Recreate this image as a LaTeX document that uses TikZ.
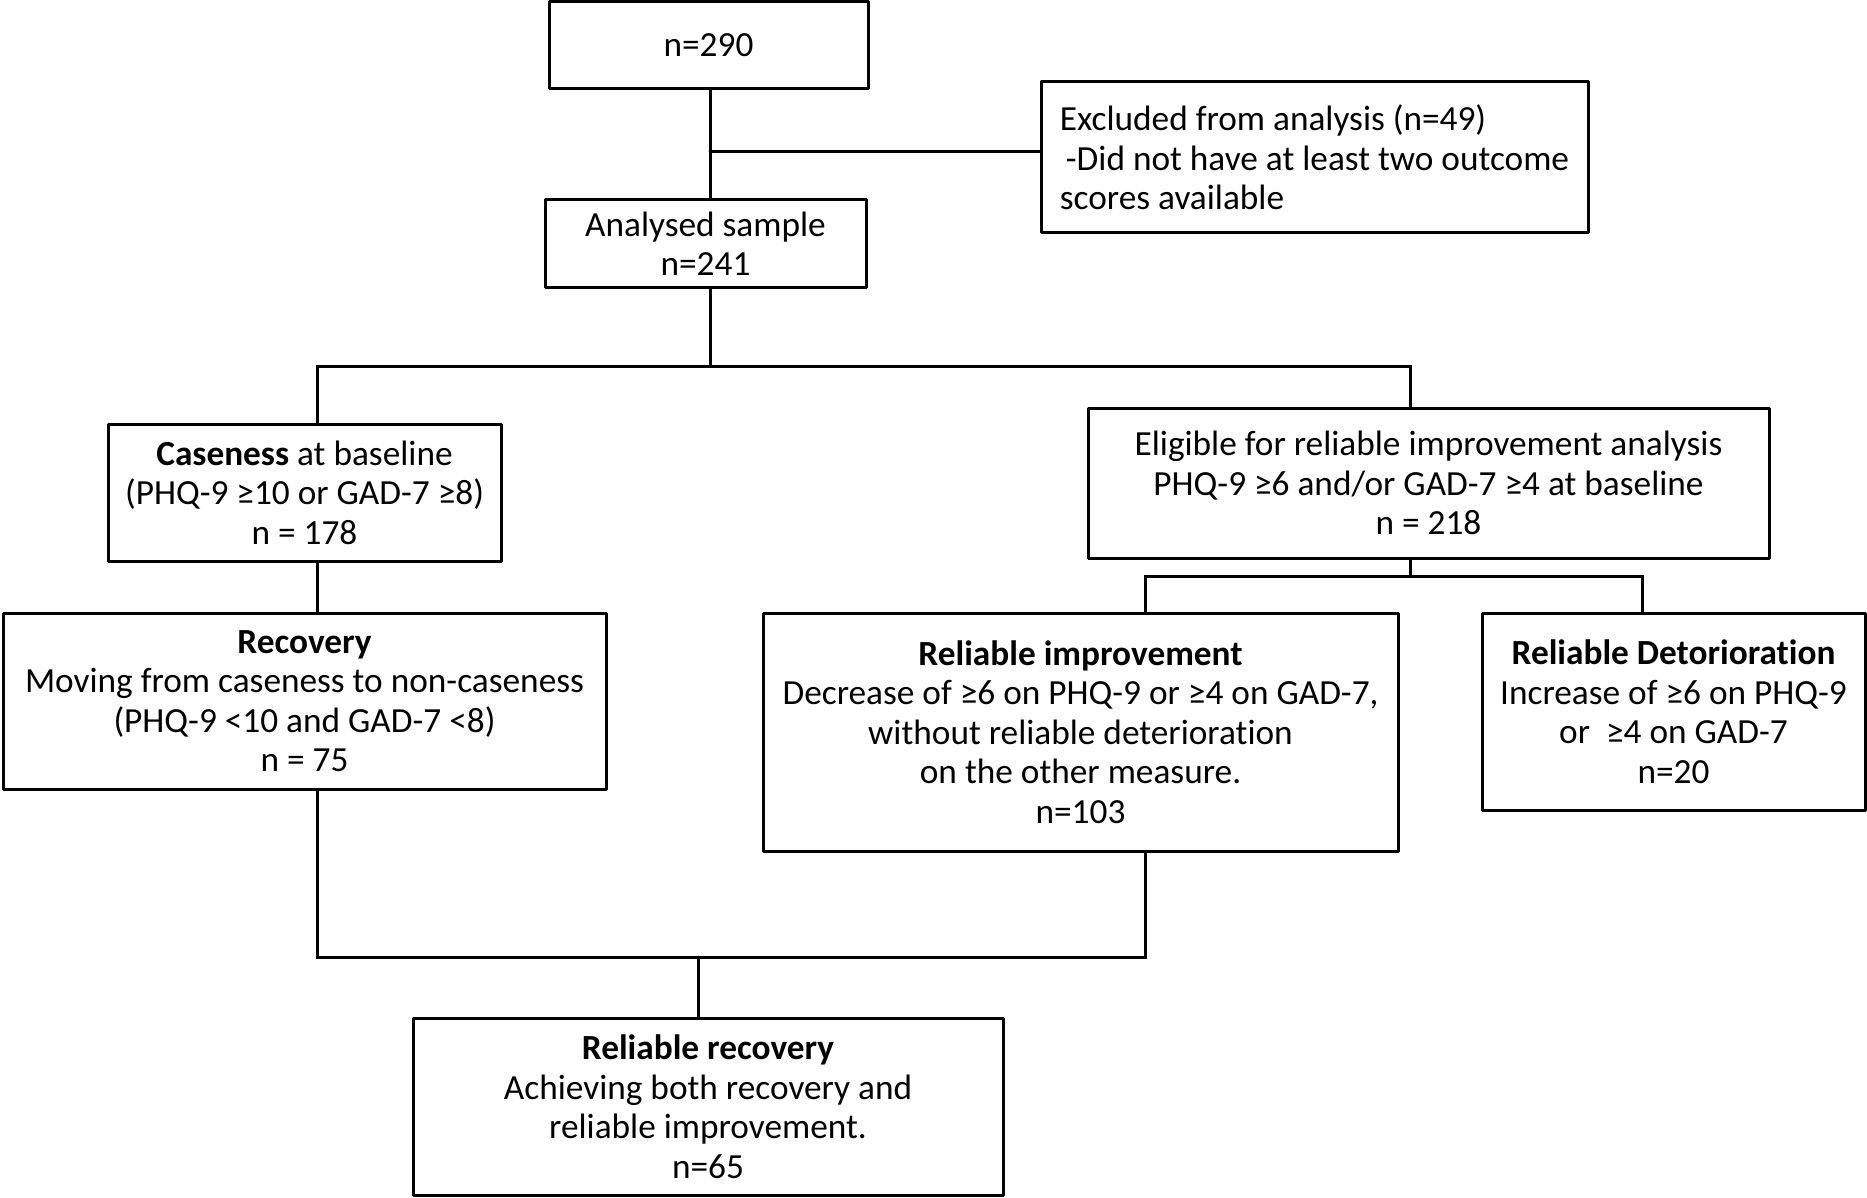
\documentclass[tikz,border=0pt]{standalone}
\usepackage{fontspec}
\setmainfont[Ligatures={NoCommon}]{Carlito}
\begin{document}
\begin{tikzpicture}[x=1pt,y=-1pt,
  box/.style={draw=black,line width=3pt,line join=round,inner sep=0pt,align=center,
    font=\fontsize{35.3}{39.5}\selectfont},
  conn/.style={draw=black,line width=3pt,line cap=round}]
\useasboundingbox (0,0) rectangle (1867,1198);
\node[box,minimum width=319pt,minimum height=87pt] (n290) at (708.5,45.5) {n=290};
\node[box,minimum width=547pt,minimum height=151pt,align=left] (excl) at (1314.5,157.5)
  {Excluded from analysis (n=49)\\\hspace{6pt}-Did not have at least two outcome\\scores available};
\node[box,minimum width=321pt,minimum height=87pt] (anal) at (705.5,243.5) {Analysed sample\\n=241};
\node[box,minimum width=393pt,minimum height=137pt] (case) at (304.5,492.5)
  {\textbf{Caseness} at baseline\\(PHQ-9 ≥10 or GAD-7 ≥8)\\n = 178};
\node[box,minimum width=681pt,minimum height=150pt] (elig) at (1428.5,483)
  {Eligible for reliable improvement analysis\\PHQ-9 ≥6 and/or GAD-7 ≥4 at baseline\\n = 218};
\node[box,minimum width=603pt,minimum height=176pt] (rec) at (304.5,701)
  {\textbf{Recovery}\\Moving from caseness to non-caseness\\(PHQ-9 <10 and GAD-7 <8)\\n = 75};
\node[box,minimum width=635pt,minimum height=238pt] (rimp) at (1080.5,732)
  {\textbf{Reliable improvement}\\Decrease of ≥6 on PHQ-9 or ≥4 on GAD-7,\\without reliable deterioration\\on the other measure.\\n=103};
\node[box,minimum width=383pt,minimum height=197pt] (rdet) at (1673.5,711.5)
  {\textbf{Reliable Detorioration}\\Increase of ≥6 on PHQ-9\\or\ \ ≥4 on GAD-7\\n=20};
\node[box,minimum width=590pt,minimum height=177pt] (rrec) at (708,1106.5)
  {\textbf{Reliable recovery}\\Achieving both recovery and\\reliable improvement.\\n=65};
% junction coordinates
\coordinate (c1) at (710,152);
\coordinate (s1) at (710,366);
\coordinate (L1) at (317,366);
\coordinate (R1) at (1410,366);
\coordinate (s2) at (1410,576);
\coordinate (L2) at (1145,576);
\coordinate (R2) at (1642,576);
\coordinate (L3) at (317,957);
\coordinate (R3) at (1145,957);
\coordinate (m3) at (698,957);
% connectors
\draw[conn] (n290.south -| c1) -- (anal.north -| c1);
\draw[conn] (c1) -- (excl.west |- c1);
\draw[conn] (anal.south -| s1) -- (s1);
\draw[conn] (case.north -| L1) -- (L1) -- (R1) -- (elig.north -| R1);
\draw[conn] (case.south -| L1) -- (rec.north -| L1);
\draw[conn] (elig.south -| s2) -- (s2);
\draw[conn] (rimp.north -| L2) -- (L2) -- (R2) -- (rdet.north -| R2);
\draw[conn] (rec.south -| L3) -- (L3) -- (R3) -- (rimp.south -| R3);
\draw[conn] (m3) -- (rrec.north -| m3);
\end{tikzpicture}
\end{document}
